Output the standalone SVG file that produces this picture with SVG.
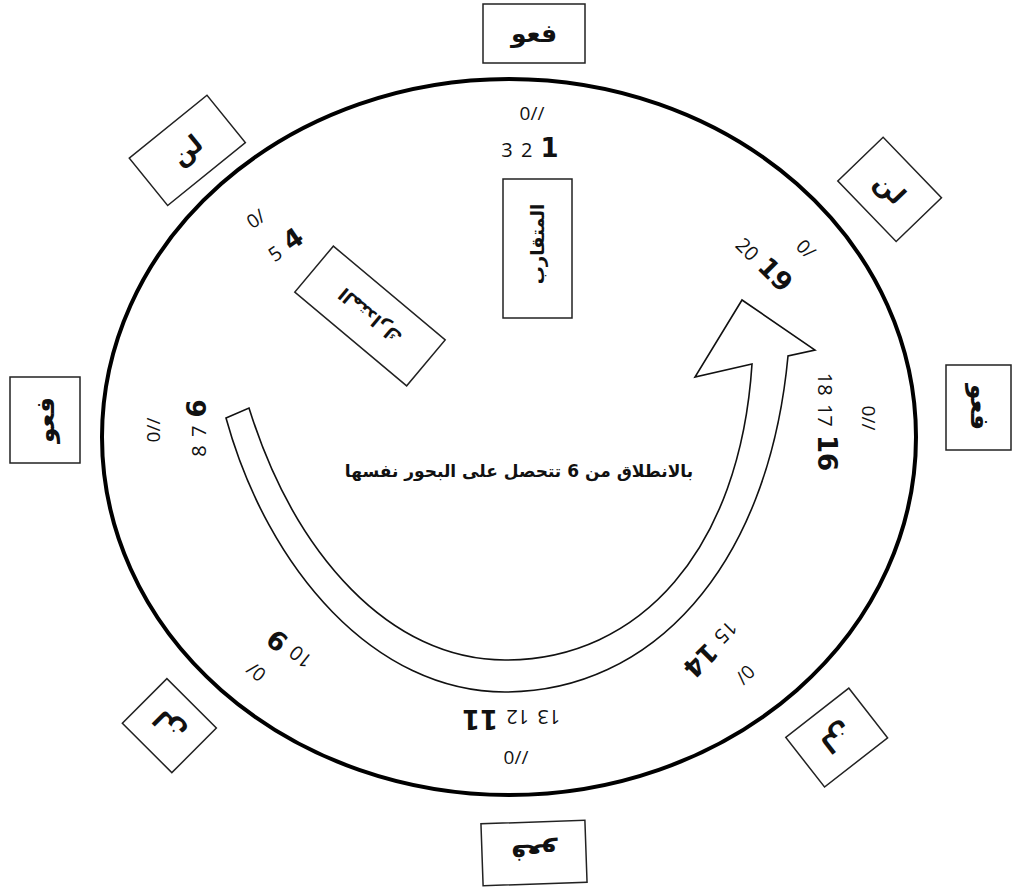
<svg xmlns="http://www.w3.org/2000/svg" width="1014" height="888" viewBox="0 0 1014 888">
<style>
.box{fill:#fff;stroke:#222;stroke-width:1.5}
.ar{font-family:"DejaVu Sans",sans-serif;fill:#111;text-anchor:middle;dominant-baseline:central}
.lbl{font-size:25px;font-weight:bold}
.num{font-family:"Open Sans","DejaVu Sans",sans-serif;font-size:20px;fill:#111;text-anchor:middle;word-spacing:3px}
.mk{font-size:19px}
.b{font-family:"DejaVu Sans",sans-serif;font-weight:bold;font-size:26px}
</style>
<rect width="1014" height="888" fill="#fff"/>
<g id="wheel">
<ellipse cx="509" cy="437" rx="407" ry="358" fill="none" stroke="#000" stroke-width="4"/>
</g>
<g id="connectors">
<path d="M226,418 L249,408 C295,555 390,660 505,660 C640,660 740,550 752,364 L695,377 L742,300 L815,350 L788,356 C768,570 650,692 505,692 C375,692 268,570 226,418 Z" fill="#fff" stroke="#111" stroke-width="1.6" stroke-linejoin="miter"/>
</g>
<g id="box-top">
<rect class="box" x="483" y="4" width="102" height="59"/>
<text class="ar lbl" x="534" y="33">فعو</text>
</g>
<g id="box-upper-left" transform="translate(187,150) rotate(-39)">
<rect class="box" x="-50" y="-30" width="100" height="61"/>
<text class="ar lbl" x="0" y="0">لن</text>
</g>
<g id="box-upper-right" transform="translate(890,189) rotate(46)">
<rect class="box" x="-42" y="-31" width="84" height="63"/>
<text class="ar lbl" x="0" y="0">لن</text>
</g>
<g id="box-left" transform="translate(45,420) rotate(-90)">
<rect class="box" x="-43" y="-35" width="86" height="70"/>
<text class="ar lbl" x="0" y="0">فعو</text>
</g>
<g id="box-right" transform="translate(979,407) rotate(90)">
<rect class="box" x="-42" y="-32" width="85" height="65"/>
<text class="ar lbl" x="0" y="0">فعو</text>
</g>
<g id="box-lower-right" transform="translate(837,738) rotate(142)">
<rect class="box" x="-40" y="-31" width="80" height="63"/>
<text class="ar lbl" x="0" y="0">لن</text>
</g>
<g id="box-bottom" transform="translate(534,853) rotate(178)">
<rect class="box" x="-52" y="-31" width="104" height="62"/>
<text class="ar lbl" x="0" y="0">فعو</text>
</g>
<g id="box-lower-left" transform="translate(169,726) rotate(225)">
<rect class="box" x="-35" y="-31" width="70" height="63"/>
<text class="ar lbl" x="0" y="0">لن</text>
</g>
<g id="box-mutaqarib">
<rect class="box" x="503" y="179" width="69" height="139"/>
<text class="ar" style="font-size:18px;font-weight:bold" transform="translate(537,244) rotate(-90)">المتقارب</text>
</g>
<g id="box-mutadarak" transform="translate(370,316) rotate(40)">
<rect class="box" x="-73" y="-30" width="146" height="60"/>
<text class="ar" style="font-size:18px;font-weight:bold" transform="rotate(180)">المتدارك</text>
</g>
<g id="num-top" transform="translate(530,157)">
<text class="num mk" x="2" y="-37">0//</text>
<text class="num" x="0" y="0">3 2 <tspan class="b">1</tspan></text>
</g>
<g id="num-upper-left" transform="translate(290,252) rotate(-35)">
<text class="num mk" x="-9" y="-40">0/</text>
<text class="num" x="0" y="0">5 <tspan class="b">4</tspan></text>
</g>
<g id="num-upper-right" transform="translate(758,270) rotate(45)">
<text class="num mk" x="19" y="-42">0/</text>
<text class="num" x="0" y="0">20 <tspan class="b">19</tspan></text>
</g>
<g id="num-right" transform="translate(818,422) rotate(90)">
<text class="num mk" x="-4" y="-44">0//</text>
<text class="num" x="0" y="0">18 17 <tspan class="b">16</tspan></text>
</g>
<g id="num-lower-right" transform="translate(705,643) rotate(135)">
<text class="num mk" x="-6" y="-44">0/</text>
<text class="num" x="0" y="0">15 <tspan class="b">14</tspan></text>
</g>
<g id="num-bottom" transform="translate(511,710) rotate(180)">
<text class="num" x="0" y="0">13 12 <tspan class="b">11</tspan></text>
</g>
<text id="num-bottom-mark" class="num mk" x="516" y="764">0//</text>
<g id="num-lower-left" transform="translate(295,643) rotate(219)">
<text class="num mk" x="12" y="-40">0/</text>
<text class="num" x="0" y="0">10 <tspan class="b">9</tspan></text>
</g>
<g id="num-left" transform="translate(206,428) rotate(-90)">
<text class="num mk" x="-2" y="-46">0//</text>
<text class="num" x="0" y="0">8 7 <tspan class="b">6</tspan></text>
</g>
<g id="center-note">
<text class="ar" style="font-size:17px;font-weight:bold" x="519" y="471">بالانطلاق من 6 تتحصل  على البحور نفسها</text>
</g>
</svg>
